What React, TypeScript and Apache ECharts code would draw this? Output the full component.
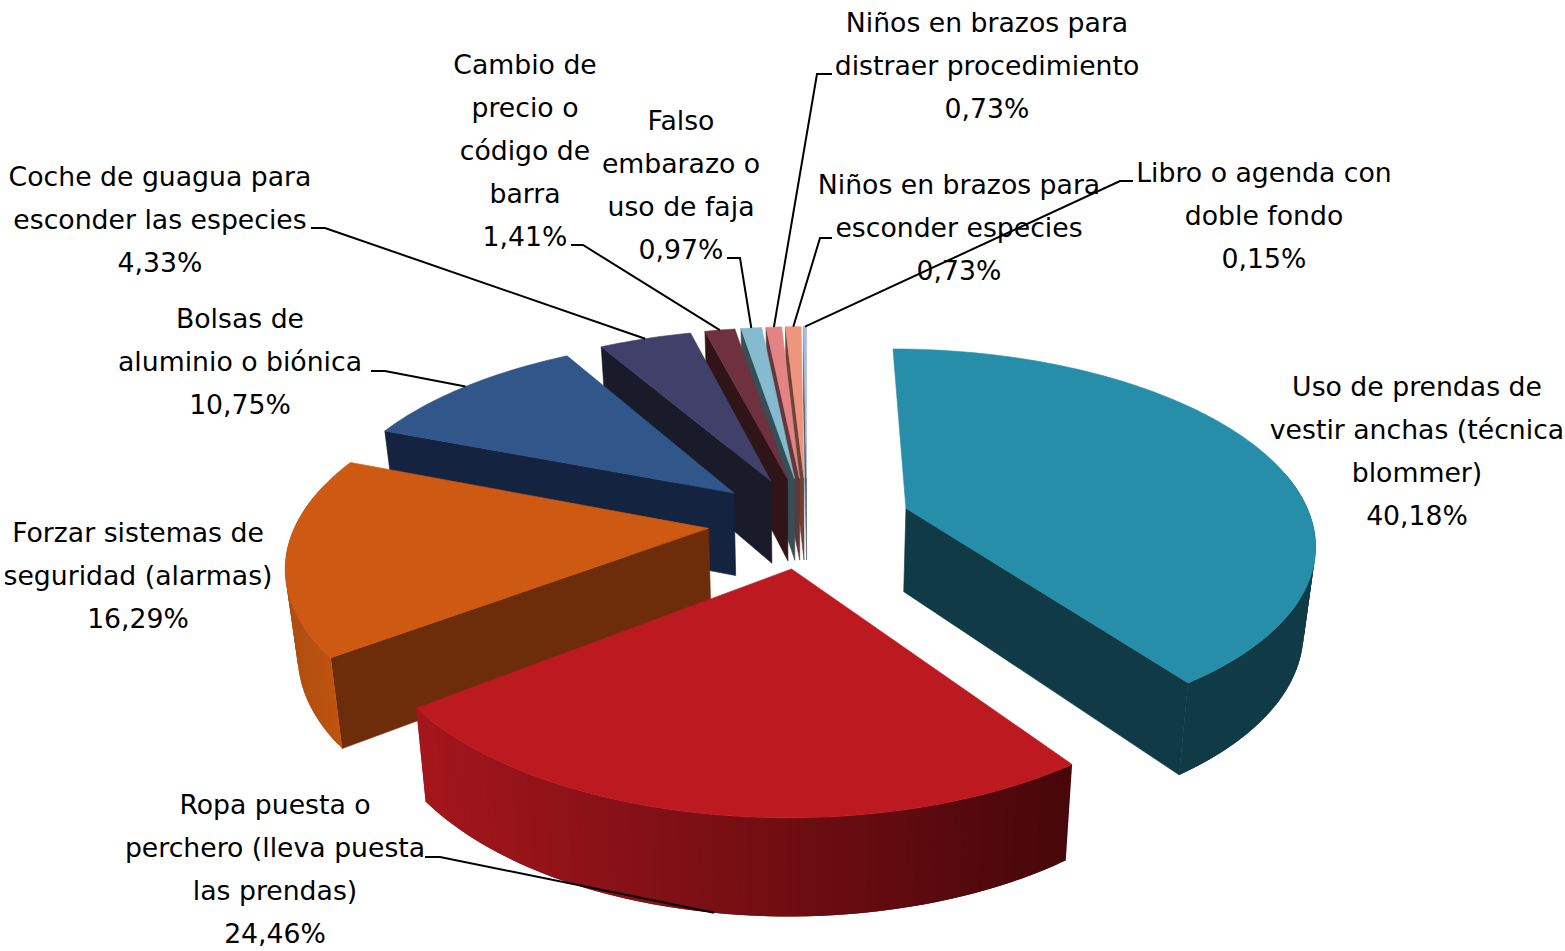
import React, { useEffect, useRef } from "react";
import * as echarts from "echarts";

const categories = [
  "Uso de prendas de\nvestir anchas (técnica\nblommer)",
  "Ropa puesta o\nperchero (lleva puesta\nlas prendas)",
  "Forzar sistemas de\nseguridad (alarmas)",
  "Bolsas de\naluminio o biónica",
  "Coche de guagua para\nesconder las especies",
  "Cambio de\nprecio o\ncódigo de\nbarra",
  "Falso\nembarazo o\nuso de faja",
  "Niños en brazos para\ndistraer procedimiento",
  "Niños en brazos para\nesconder especies",
  "Libro o agenda con\ndoble fondo",
];
const values = [40.18, 24.46, 16.29, 10.75, 4.33, 1.41, 0.97, 0.73, 0.73, 0.15];
const topColors = ["#268EA9", "#BC1A20", "#CD5912", "#30568A", "#40406B", "#6F3040", "#86BBCF", "#E28384", "#EE957E", "#A9BBDD"];
const wallColors = ["#103B46", "#4A0709", "#6E2D0A", "#142440", "#1A1B2A", "#2F1517", "#364E56", "#60383A", "#6A4438", "#4A5A78"];
// Outer-wall shading from the left of the slice to its right: [r,g,b] pairs, null for a flat wall colour.
const outerShades: (number[][] | null)[] = [
  null,
  [[164, 22, 28], [71, 7, 10]],
  [[176, 78, 16], [196, 86, 15]],
  null, null, null, null, null, null, null,
];
// Painting order: later entries cover earlier ones.
const drawOrder = [9, 8, 7, 6, 5, 4, 3, 2, 0, 1];
const labelCentres = [
  [1417, 451], [275, 869], [138, 575], [240, 361], [160, 219],
  [525, 150], [681, 185], [987, 65], [959, 227], [1264, 215],
];
const leaderElbows: (number[][] | null)[] = [
  null,
  [[425, 857], [440, 857]],
  null,
  [[371, 371], [385, 371]],
  [[311, 228], [325, 228]],
  [[571, 245], [583, 245]],
  [[727, 258], [740, 258]],
  [[832, 74], [817, 74]],
  [[832, 238], [820, 238]],
  [[1133, 181], [1120, 181]],
];
// Small horizontal correction of the projection per slice: [pivot x, scale].
const xWarp: (number[] | null)[] = [[1317, 0.986], [793, 0.98], null, null, null, null, null, null, null, null];

// 3D projection of the pie.
const CX = 807, CY = 522, RX = 412, RY = 190, PERSP = 0.166, EXPLODE = 0.24, DEPTH = 84, SHRINK = 0.976;
const TAU = Math.PI * 2;
const total = values.reduce((a, b) => a + b, 0);

function project(X: number, Z: number, bottom: boolean, warp: number[] | null): number[] {
  const s = 1 / (1 + PERSP * Z);
  const px = RX * X * s, py = -RY * Z * s;
  const p = bottom
    ? [CX + px * SHRINK, CY + py * SHRINK + DEPTH * s]
    : [CX + px, CY + py];
  if (warp) p[0] = warp[0] + (p[0] - warp[0]) * warp[1];
  return p;
}

function App() {
  const ref = useRef<HTMLDivElement>(null);
  useEffect(() => {
    const chart = echarts.init(ref.current!, null, { renderer: "svg" });
    const renderItem = (params: any, api: any) => {
      const i = params.dataIndex;
      const warp = xWarp[i];
      const before = values.slice(0, i).reduce((a, b) => a + b, 0);
      const v = api.value(0);
      const a0 = (before / total) * TAU, a1 = ((before + v) / total) * TAU, mid = (a0 + a1) / 2;
      const ox = EXPLODE * Math.sin(mid), oz = EXPLODE * Math.cos(mid);
      const steps = Math.max(2, Math.ceil((a1 - a0) / 0.02));
      const top: number[][] = [], bot: number[][] = [], cosines: number[] = [];
      for (let k = 0; k <= steps; k++) {
        const a = a0 + ((a1 - a0) * k) / steps;
        const X = ox + Math.sin(a), Z = oz + Math.cos(a);
        top.push(project(X, Z, false, warp));
        bot.push(project(X, Z, true, warp));
        cosines.push(Math.cos(a));
      }
      const aT = project(ox, oz, false, warp), aB = project(ox, oz, true, warp);
      const order = drawOrder.indexOf(i) * 10 + 1;
      const poly = (points: number[][], fill: string, z: number, lw = 0.6) => ({
        type: "polygon",
        z2: order + z,
        shape: { points },
        style: { fill, stroke: fill, lineWidth: lw },
        silent: true,
      });
      const children: any[] = [];
      if (Math.sin(a0) < 0) children.push(poly([aT, top[0], bot[0], aB], wallColors[i], 0));
      if (Math.sin(a1) > 0) children.push(poly([aT, top[steps], bot[steps], aB], wallColors[i], 0));
      // Outer wall: only the part facing the viewer, in overlapping strips so that no seam shows.
      const xs = top.map((p) => p[0]);
      const xMin = Math.min(...xs), xMax = Math.max(...xs);
      const shade = outerShades[i];
      for (let k = 0; k < steps; k++) {
        if (cosines[k] > 0.2) continue;
        let fill = wallColors[i];
        if (shade) {
          const t = ((top[k][0] + top[k + 1][0]) / 2 - xMin) / (xMax - xMin || 1);
          const c = shade[0].map((c0, n) => Math.round(c0 + (shade[1][n] - c0) * t));
          fill = `rgb(${c[0]},${c[1]},${c[2]})`;
        }
        const n = Math.min(k + 2, steps);
        children.push(poly([top[k], top[n], bot[n], bot[k]], fill, 1, 0));
      }
      children.push(poly([aT, ...top], topColors[i], 30 - 27));
      const elbows = leaderElbows[i];
      if (elbows) {
        const mx = ox + Math.sin(mid), mz = oz + Math.cos(mid);
        const anchor = project(mx, mz, i === 1, warp);
        children.push({
          type: "polyline",
          z2: 500,
          shape: { points: [...elbows, anchor] },
          style: { stroke: "#000", lineWidth: 2, fill: "none" },
          silent: true,
        });
      }
      const pct = v.toFixed(2).replace(".", ",") + "%";
      children.push({
        type: "text",
        z2: 600,
        x: labelCentres[i][0],
        y: labelCentres[i][1],
        style: {
          text: categories[i] + "\n" + pct,
          align: "center",
          verticalAlign: "middle",
          fontFamily: "DejaVu Sans",
          fontSize: 26.7,
          lineHeight: 43,
          fill: "#000",
        },
        silent: true,
      });
      return { type: "group", children };
    };
    chart.setOption({
      animation: false,
      backgroundColor: "#fff",
      series: [
        {
          type: "custom",
          coordinateSystem: "none",
          renderItem,
          data: values.map((v) => [v]),
          clip: false,
        },
      ],
    });
    return () => chart.dispose();
  }, []);
  return <div ref={ref} style={{ position: "fixed", left: 0, top: 0, width: 1565, height: 951 }} />;
}

export default App;
